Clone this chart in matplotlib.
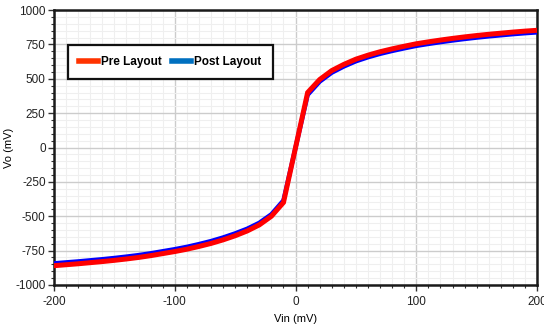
import numpy as np
import matplotlib.pyplot as plt
from matplotlib.lines import Line2D
from matplotlib.ticker import MultipleLocator

# Data (mV)
vin = [-200, -190, -180, -170, -160, -150, -140, -130, -120, -110, -100,
       -90, -80, -70, -60, -50, -40, -30, -20, -10, 0,
       10, 20, 30, 40, 50, 60, 70, 80, 90, 100,
       110, 120, 130, 140, 150, 160, 170, 180, 190, 200]
vo_pre = [-860, -853, -846, -838, -830, -821, -811, -800, -787, -772, -757,
          -740, -720, -698, -672, -642, -607, -563, -500, -400, 0,
          400, 495, 560, 605, 643, 672, 697, 718, 737, 755,
          769, 782, 794, 805, 815, 824, 832, 840, 847, 853]
vo_post = [-843, -836, -829, -821, -813, -804, -794, -783, -770, -755, -740,
           -723, -703, -681, -655, -625, -591, -548, -486, -385, 0,
           383, 480, 545, 590, 628, 657, 682, 703, 722, 740,
           754, 767, 779, 790, 800, 809, 817, 825, 832, 838]
labels = ["Pre Layout", "Post Layout"]
legend_colors = ["#ff3300", "#0070c0"]

plt.rcParams['font.family'] = ['Liberation Sans', 'DejaVu Sans']
plt.rcParams['axes.unicode_minus'] = False

fig = plt.figure(figsize=(5.44, 3.26), dpi=100)
ax = fig.add_axes([0.0993, 0.126, 0.888, 0.843])

ax.plot(vin, vo_post, color='#0000ff', lw=3.2, solid_joinstyle='miter', zorder=3)
ax.plot(vin, vo_pre, color='#ff0000', lw=3.6, solid_joinstyle='miter', zorder=4)

ax.set_xlim(-200, 200)
ax.set_ylim(-1000, 1000)
ax.xaxis.set_major_locator(MultipleLocator(100))
ax.xaxis.set_minor_locator(MultipleLocator(10))
ax.yaxis.set_major_locator(MultipleLocator(250))
ax.yaxis.set_minor_locator(MultipleLocator(50))

ax.grid(which='major', color='#cccccc', lw=1.0, zorder=0)
ax.grid(which='minor', color='#efefef', lw=0.8, zorder=0)
ax.set_axisbelow(True)

for s in ax.spines.values():
    s.set_linewidth(1.8)
    s.set_color('#1a1a1a')

ax.tick_params(which='major', length=4, width=1, color='#333333',
               labelsize=8.5, labelcolor='#222222')
ax.tick_params(axis='x', which='major', pad=4)
ax.tick_params(axis='y', which='major', pad=2)
ax.tick_params(which='minor', length=2.5, width=0.8, color='#333333')

ax.set_xlabel("Vin (mV)", fontsize=8)
ax.set_ylabel("Vo (mV)", fontsize=8)
ax.xaxis.set_label_coords(0.5, -0.105)
ax.yaxis.set_label_coords(-0.083, 0.5)

handles = [Line2D([0], [0], color=c, lw=4) for c in legend_colors]
leg = ax.legend(handles, labels, loc='upper left', bbox_to_anchor=(0.029, 0.873),
                borderaxespad=0, ncol=2, frameon=True, fancybox=False,
                handlelength=1.6, handletextpad=0.25, columnspacing=0.9,
                borderpad=0.95, prop={'weight': 'bold', 'size': 8.5})
leg.get_frame().set_edgecolor('#111111')
leg.get_frame().set_linewidth(1.6)
leg.get_frame().set_facecolor('white')
leg.get_frame().set_alpha(1)

fig.savefig("out.png", dpi=100)
